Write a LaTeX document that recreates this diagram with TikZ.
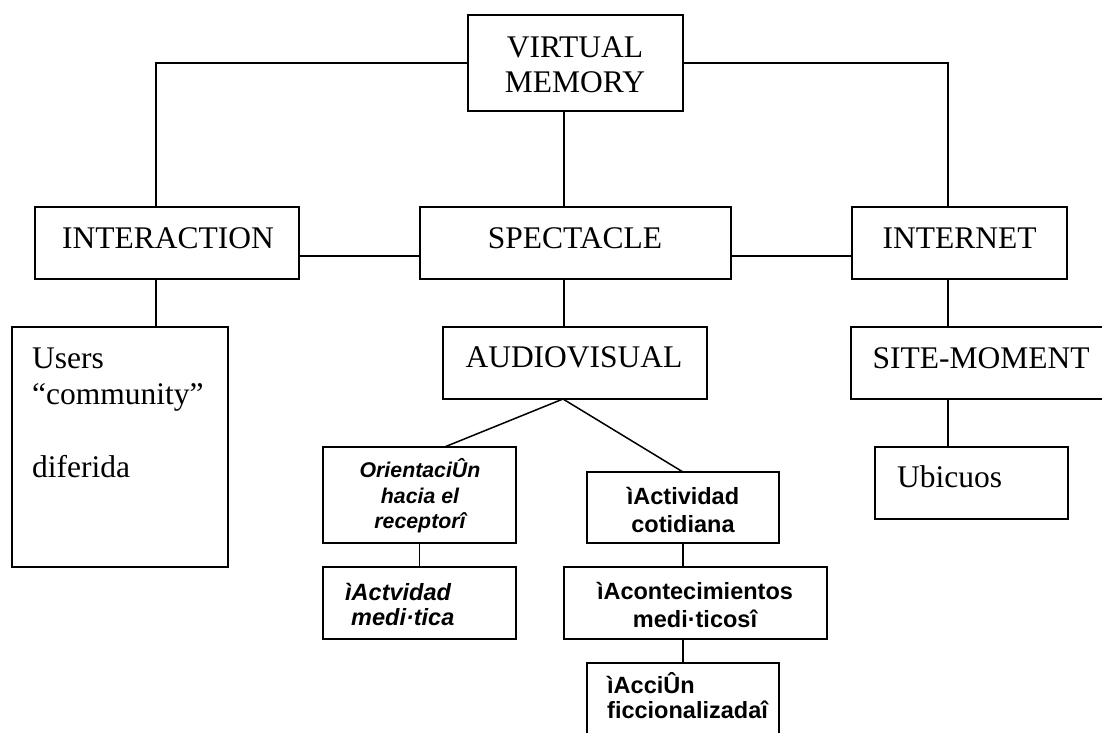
\documentclass[tikz,border=0pt]{standalone}
\usepackage{fontspec}
\setmainfont{Liberation Serif}
\newfontfamily\arialf{Liberation Sans}
\begin{document}
\begin{tikzpicture}[x=1pt,y=-1pt,
  box/.style={draw, line width=1.5pt, inner sep=0pt, outer sep=0pt, anchor=north west},
  conn/.style={line width=1.5pt},
  big/.style={font=\fontsize{31.5}{36}\selectfont, inner sep=0pt},
  smit/.style={font=\arialf\bfseries\itshape\fontsize{21.3}{25}\selectfont, inner sep=0pt},
  smbi/.style={font=\arialf\bfseries\itshape\fontsize{23.5}{27}\selectfont, inner sep=0pt},
  smb/.style={font=\arialf\bfseries\fontsize{23.5}{27}\selectfont, inner sep=0pt}]
\clip (0,0) rectangle (1102,732);
\fill[white] (0,0) rectangle (1102,732);
% boxes
\node[box, minimum width=215pt, minimum height=96pt] (vm) at (468,15) {};
\node[box, minimum width=264pt, minimum height=72pt] (inter) at (35,207) {};
\node[box, minimum width=311pt, minimum height=72pt] (spec) at (420,207) {};
\node[box, minimum width=215pt, minimum height=72pt] (inet) at (852,207) {};
\node[box, minimum width=216pt, minimum height=240pt] (users) at (12,327) {};
\node[box, minimum width=264pt, minimum height=72pt] (audio) at (443,327) {};
\node[box, minimum width=260pt, minimum height=72pt] (site) at (851,327) {};
\node[box, minimum width=193pt, minimum height=72pt] (ubi) at (875,447) {};
\node[box, minimum width=193pt, minimum height=96pt] (orient) at (323,447) {};
\node[box, minimum width=193pt, minimum height=72pt] (med) at (323,567) {};
\node[box, minimum width=192pt, minimum height=71pt] (act) at (587,472) {};
\node[box, minimum width=263pt, minimum height=72pt] (acon) at (564,567) {};
\node[box, minimum width=192pt, minimum height=100pt] (accion) at (587,663) {};
% texts
\node[big, anchor=base] (t1) at (575,57) {VIRTUAL};
\node[big, anchor=base] (t2) at (575,92) {MEMORY};
\node[big, anchor=base] (t3) at (168,248) {INTERACTION};
\node[big, anchor=base] (t4) at (575,248) {SPECTACLE};
\node[big, anchor=base] (t5) at (959.5,248) {INTERNET};
\node[big, anchor=base] (t6) at (574,367) {AUDIOVISUAL};
\node[big, anchor=base] (t7) at (981,368) {SITE-MOMENT};
\node[big, anchor=base west] (t8) at (32,368) {Users};
\node[big, anchor=base west] (t9) at (32,404) {“community”};
\node[big, anchor=base west] (t10) at (32,477) {diferida};
\node[big, anchor=base west] (t11) at (897,487) {Ubicuos};
\node[smit, anchor=base] (t12) at (420,477) {OrientaciÛn};
\node[smit, anchor=base] (t13) at (420,503) {hacia el};
\node[smit, anchor=base] (t14) at (420,528) {receptorî};
\node[smbi, anchor=base west] (t15) at (345,600) {ìActvidad};
\node[smbi, anchor=base west] (t16) at (351,625) {medi·tica};
\node[smb, anchor=base] (t17) at (683,504) {ìActividad};
\node[smb, anchor=base] (t18) at (683,532) {cotidiana};
\node[smb, anchor=base] (t19) at (695,599) {ìAcontecimientos};
\node[smb, anchor=base] (t20) at (695,627) {medi·ticosî};
\node[smb, anchor=base west] (t21) at (607,693) {ìAcciÛn};
\node[smb, anchor=base west] (t22) at (607,718) {ficcionalizadaî};
% connectors
\draw[conn] (vm.west) -| ([xshift=-11pt]inter.north);
\draw[conn] (vm.east) -| ([xshift=-11.5pt]inet.north);
\draw[conn] ([xshift=-11.5pt]vm.south) -- ([xshift=-11.5pt]spec.north);
\draw[conn] ([yshift=-13pt]inter.east) -- ([yshift=-13pt]spec.west);
\draw[conn] ([yshift=-13pt]spec.east) -- ([yshift=-13pt]inet.west);
\draw[conn] ([xshift=-11pt]inter.south) -- ([xshift=-11pt]inter.south |- users.north);
\draw[conn] ([xshift=-11.5pt]spec.south) -- ([xshift=-11.5pt]spec.south |- audio.north);
\draw[conn] ([xshift=-11.5pt]inet.south) -- ([xshift=-11.5pt]inet.south |- site.north);
\draw[conn] ([xshift=-11.5pt]inet.south |- site.south) -- ([xshift=-11.5pt]inet.south |- ubi.north);
\draw[conn] ([xshift=25pt]orient.north) -- ([xshift=-12pt]audio.south) -- (act.north);
\draw[conn] (orient.south) -- (med.north);
\draw[conn] (act.south) -- (act.south |- acon.north);
\draw[conn] (accion.north |- acon.south) -- (accion.north);
\end{tikzpicture}
\end{document}
